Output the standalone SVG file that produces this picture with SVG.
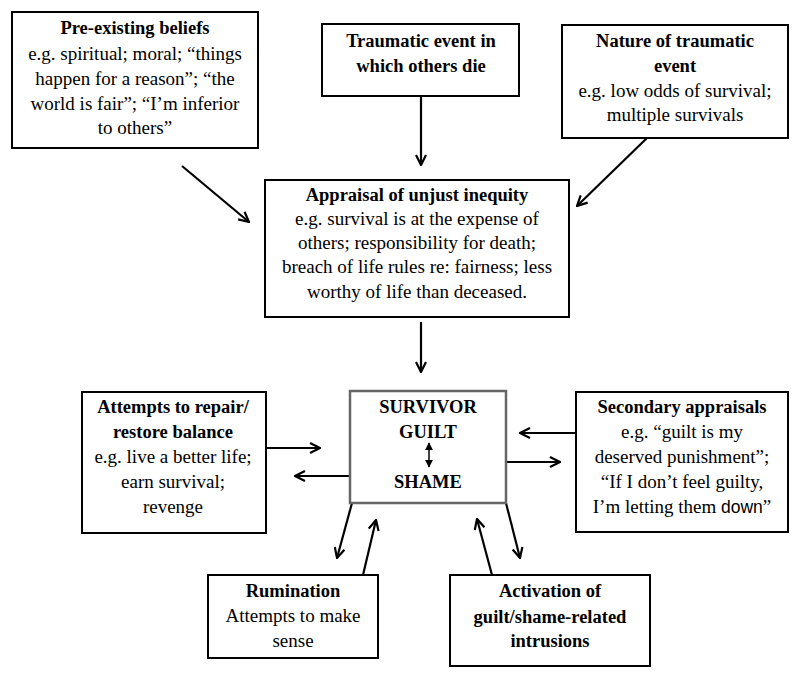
<svg xmlns="http://www.w3.org/2000/svg" width="800" height="678" viewBox="0 0 800 678">
<defs>
<style>
.box{fill:#fff;stroke:#000;stroke-width:2}
.cbox{fill:#fff;stroke:#666;stroke-width:2.5}
text{font-family:'Liberation Serif','Times New Roman',serif;font-size:19px;fill:#000;text-anchor:middle}
.b{font-weight:bold;font-size:18.5px}
.c{stroke:#000;stroke-width:2.2;fill:none}
.sans{font-family:'Liberation Sans',Arial,sans-serif;font-size:17.5px}
</style>
<marker id="ah" viewBox="0 0 12 12" refX="11" refY="6" markerWidth="12" markerHeight="12" markerUnits="userSpaceOnUse" orient="auto">
<path d="M1,1 L11,6 L1,11" fill="none" stroke="#000" stroke-width="2.2"/>
</marker>
<marker id="tri" viewBox="0 0 10 10" refX="9" refY="5" markerWidth="8" markerHeight="8" markerUnits="userSpaceOnUse" orient="auto">
<path d="M0,0 L10,5 L0,10 Z" fill="#000"/>
</marker>
<marker id="tris" viewBox="0 0 10 10" refX="1" refY="5" markerWidth="8" markerHeight="8" markerUnits="userSpaceOnUse" orient="auto">
<path d="M10,0 L0,5 L10,10 Z" fill="#000"/>
</marker>
</defs>
<rect width="800" height="678" fill="#fff"/>

<g id="connectors">
<line class="c" x1="182" y1="166" x2="249" y2="222" marker-end="url(#ah)"/>
<line class="c" x1="421" y1="96" x2="421" y2="165" marker-end="url(#ah)"/>
<line class="c" x1="647" y1="138" x2="577" y2="206" marker-end="url(#ah)"/>
<line class="c" x1="421" y1="322" x2="421" y2="372" marker-end="url(#ah)"/>
<line class="c" x1="266" y1="448" x2="320" y2="448" marker-end="url(#ah)"/>
<line class="c" x1="350" y1="476" x2="295" y2="476" marker-end="url(#ah)"/>
<line class="c" x1="576" y1="433" x2="520" y2="433" marker-end="url(#ah)"/>
<line class="c" x1="506" y1="462" x2="560" y2="462" marker-end="url(#ah)"/>
<line class="c" x1="352" y1="503" x2="337" y2="558" marker-end="url(#ah)"/>
<line class="c" x1="363" y1="575" x2="376" y2="520" marker-end="url(#ah)"/>
<line class="c" x1="492" y1="575" x2="477" y2="519" marker-end="url(#ah)"/>
<line class="c" x1="506" y1="503" x2="520" y2="558" marker-end="url(#ah)"/>
</g>

<g id="pre-existing">
<rect class="box" x="12" y="12" width="246" height="136"/>
<text x="135" y="34" class="b">Pre-existing beliefs</text>
<text x="135" y="60">e.g. spiritual; moral; “things</text>
<text x="135" y="85">happen for a reason”; “the</text>
<text x="135" y="110">world is fair”; “I’m inferior</text>
<text x="135" y="134">to others”</text>
</g>

<g id="traumatic">
<rect class="box" x="322" y="24" width="197" height="72"/>
<text x="421" y="47" class="b">Traumatic event in</text>
<text x="421" y="72" class="b">which others die</text>
</g>

<g id="nature">
<rect class="box" x="562" y="25" width="226" height="113"/>
<text x="675" y="47" class="b">Nature of traumatic</text>
<text x="675" y="72" class="b">event</text>
<text x="675" y="97">e.g. low odds of survival;</text>
<text x="675" y="121">multiple survivals</text>
</g>

<g id="appraisal">
<rect class="box" x="265" y="180" width="304" height="137"/>
<text x="417" y="201" class="b">Appraisal of unjust inequity</text>
<text x="417" y="225">e.g. survival is at the expense of</text>
<text x="417" y="249">others; responsibility for death;</text>
<text x="417" y="273">breach of life rules re: fairness; less</text>
<text x="417" y="298">worthy of life than deceased.</text>
</g>

<g id="survivor">
<rect class="cbox" x="350" y="391" width="156" height="112"/>
<text x="428" y="413" class="b">SURVIVOR</text>
<text x="428" y="438" class="b">GUILT</text>
<line x1="429" y1="443" x2="429" y2="467" stroke="#000" stroke-width="1.5" marker-start="url(#tris)" marker-end="url(#tri)"/>
<text x="428" y="488" class="b">SHAME</text>
</g>

<g id="attempts">
<rect class="box" x="82" y="392" width="184" height="141"/>
<text x="173" y="413" class="b">Attempts to repair/</text>
<text x="173" y="438" class="b">restore balance</text>
<text x="173" y="463">e.g. live a better life;</text>
<text x="173" y="488">earn survival;</text>
<text x="173" y="513">revenge</text>
</g>

<g id="secondary">
<rect class="box" x="576" y="392" width="212" height="140"/>
<text x="682" y="413" class="b">Secondary appraisals</text>
<text x="682" y="438">e.g. “guilt is my</text>
<text x="682" y="463">deserved punishment”;</text>
<text x="682" y="488">“If I don’t feel guilty,</text>
<text x="682" y="513">I’m letting them <tspan class="sans">down</tspan>”</text>
</g>

<g id="rumination">
<rect class="box" x="208" y="575" width="170" height="83"/>
<text x="293" y="597" class="b">Rumination</text>
<text x="293" y="622">Attempts to make</text>
<text x="293" y="647">sense</text>
</g>

<g id="activation">
<rect class="box" x="450" y="575" width="200" height="91"/>
<text x="550" y="597" class="b">Activation of</text>
<text x="550" y="623" class="b">guilt/shame-related</text>
<text x="550" y="647" class="b">intrusions</text>
</g>
</svg>
